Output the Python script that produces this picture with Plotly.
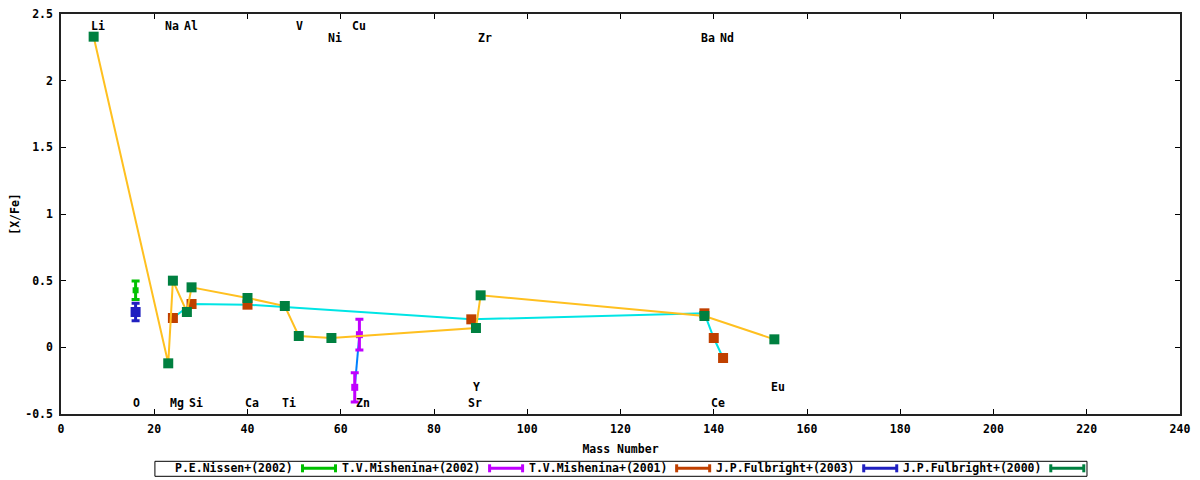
import plotly.graph_objects as go

# J.P.Fulbright+(2000): mass number vs [X/Fe]
fulb00_mass = [7, 23, 24, 27, 28, 40, 48, 51, 58, 89, 90, 138, 153]
fulb00_val = [2.33, -0.12, 0.50, 0.265, 0.45, 0.37, 0.31, 0.085, 0.07, 0.145, 0.39, 0.235, 0.06]

# T.V.Mishenina+(2001)
mish01_mass = [24, 28, 40, 88, 138, 140, 142]
mish01_val = [0.22, 0.325, 0.32, 0.21, 0.255, 0.07, -0.08]

# T.V.Mishenina+(2002)
mish02_mass = [63, 64]
mish02_val = [-0.30, 0.095]
mish02_err = [0.11, 0.115]

# P.E.Nissen+(2002)
nissen_mass = [16]
nissen_val = [0.428]
nissen_err = [0.07]

# J.P.Fulbright+(2003)
fulb03_mass = [16]
fulb03_val = [0.265]
fulb03_err = [0.065]

# element names written at their mass number
elem_names = ["Li", "Na", "Al", "V", "Cu", "Ni", "Zr", "Ba", "Nd",
              "O", "Mg", "Si", "Ca", "Ti", "Zn", "Sr", "Ce", "Y", "Eu"]
elem_mass = [7, 23, 27, 51, 63, 58, 90, 138, 142,
             16, 24, 28, 40, 48, 64, 88, 140, 89, 153]
elem_y = [2.41, 2.41, 2.41, 2.41, 2.41, 2.32, 2.32, 2.32, 2.32,
          -0.415, -0.415, -0.415, -0.415, -0.415, -0.415, -0.415, -0.415, -0.30, -0.30]

x_ticks = list(range(0, 241, 20))
y_ticks = [-0.5, 0, 0.5, 1, 1.5, 2, 2.5]
y_ticktext = ["-0.5", "0", "0.5", "1", "1.5", "2", "2.5"]

FONT = dict(family="DejaVu Sans Mono", size=11.5, color="black", weight="bold")

C_NISSEN = "#00c000"
C_MISH02 = "#c000ff"
C_MISH01 = "#c04000"
C_FULB03 = "#2020c0"
C_FULB00 = "#008040"

fig = go.Figure()

# connecting lines
fig.add_trace(go.Scatter(x=mish01_mass, y=mish01_val, mode="lines",
                         line=dict(color="#00e5e5", width=2), showlegend=False))
fig.add_trace(go.Scatter(x=mish02_mass, y=mish02_val, mode="lines",
                         line=dict(color="#0080ff", width=2), showlegend=False))

# error bar series
for xs, ys, es, col, sz in [(nissen_mass, nissen_val, nissen_err, C_NISSEN, 6),
                            (mish02_mass, mish02_val, mish02_err, C_MISH02, 7)]:
    fig.add_trace(go.Scatter(
        x=xs, y=ys, mode="markers",
        marker=dict(symbol="square", size=sz, color=col),
        error_y=dict(type="data", array=es, color=col, thickness=3, width=4),
        showlegend=False))

fig.add_trace(go.Scatter(x=mish01_mass, y=mish01_val, mode="markers",
                         marker=dict(symbol="square", size=10, color=C_MISH01),
                         showlegend=False))

fig.add_trace(go.Scatter(
    x=fulb03_mass, y=fulb03_val, mode="markers",
    marker=dict(symbol="square", size=10, color=C_FULB03),
    error_y=dict(type="data", array=fulb03_err, color=C_FULB03, thickness=3, width=4),
    showlegend=False))

fig.add_trace(go.Scatter(x=fulb00_mass, y=fulb00_val, mode="lines",
                         line=dict(color="#ffc020", width=2), showlegend=False))
fig.add_trace(go.Scatter(x=fulb00_mass, y=fulb00_val, mode="markers",
                         marker=dict(symbol="square", size=10, color=C_FULB00),
                         showlegend=False))

# element labels
for name, m, yv in zip(elem_names, elem_mass, elem_y):
    fig.add_annotation(x=m, y=yv, text=name, showarrow=False,
                       xanchor="left", yanchor="middle", xshift=-5, font=FONT)

# gnuplot-like key below the plot: text first, then the errorbar sample
# (positions given in window pixels, converted to paper units)
L, W, T, H = 61.1, 1118.9, 13.7, 400.0


def px(x):
    return (x - L) / W


def py(y):
    return (T + H - y) / H


key_names = ["P.E.Nissen+(2002)", "T.V.Mishenina+(2002)", "T.V.Mishenina+(2001)",
             "J.P.Fulbright+(2003)", "J.P.Fulbright+(2000)"]
key_colors = [C_NISSEN, C_MISH02, C_MISH01, C_FULB03, C_FULB00]

ky = 468
fig.add_shape(type="rect", xref="paper", yref="paper",
              x0=px(155), x1=px(1087), y0=py(461), y1=py(476),
              line=dict(color="black", width=1))
for i, (name, col) in enumerate(zip(key_names, key_colors)):
    xe = 294.6 + i * 187.05
    fig.add_annotation(x=px(xe), y=py(ky), xref="paper", yref="paper", text=name,
                       showarrow=False, xanchor="right", yanchor="middle", font=FONT)
    s0, s1 = xe + 7, xe + 42
    fig.add_shape(type="line", xref="paper", yref="paper",
                  x0=px(s0), x1=px(s1), y0=py(ky), y1=py(ky), line=dict(color=col, width=3))
    for sx in (s0 + 1, s1 - 1):
        fig.add_shape(type="line", xref="paper", yref="paper",
                      x0=px(sx), x1=px(sx), y0=py(ky - 4), y1=py(ky + 4),
                      line=dict(color=col, width=3))

# page body has an 8px margin, so the figure is 8px smaller and shifted back
fig.update_layout(
    width=1192, height=472,
    margin=dict(l=53, r=20, t=6, b=66),
    paper_bgcolor="white", plot_bgcolor="white",
    font=FONT, showlegend=False,
)
fig.update_xaxes(range=[0, 240], tickvals=x_ticks, ticks="inside", ticklen=5,
                 tickcolor="black", showline=True, linecolor="#222", linewidth=1.5,
                 mirror="ticks", showgrid=False, zeroline=False, automargin=False,
                 ticklabelstandoff=3, ticklabeloverflow="allow",
                 title=dict(text="Mass Number", font=FONT, standoff=10))
fig.update_yaxes(range=[-0.5, 2.5], tickvals=y_ticks, ticktext=y_ticktext,
                 ticks="inside", ticklen=5, tickcolor="black", showline=True,
                 linecolor="#222", linewidth=1.5, mirror="ticks", showgrid=False,
                 zeroline=False, automargin=False, ticklabelstandoff=4,
                 ticklabeloverflow="allow",
                 title=dict(text="[X/Fe]", font=FONT, standoff=4))

fig.write_html("out.html")
